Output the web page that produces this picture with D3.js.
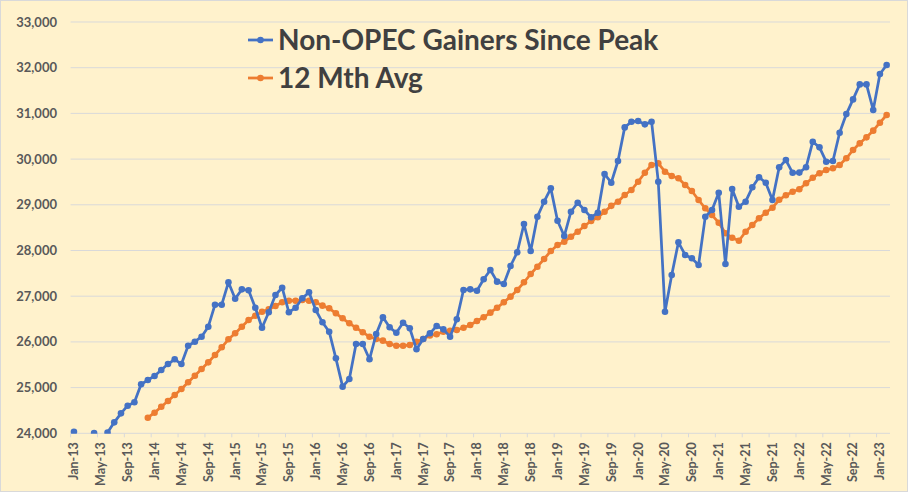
<!DOCTYPE html>
<html><head><meta charset="utf-8">
<script src="https://cdn.jsdelivr.net/npm/d3@7"></script>
<style>body{margin:0;background:#fff} text{font-family:Lato,"Noto Sans",sans-serif}</style>
</head><body><svg id="c" width="910" height="494"></svg>
<script>
// Categories: monthly Jan-13 .. Feb-23
const firstMonth = [2013, 0];
const lastMonthExclusive = [2023, 2];
const tickLabels = ["Jan-13","May-13","Sep-13","Jan-14","May-14","Sep-14","Jan-15","May-15","Sep-15",
  "Jan-16","May-16","Sep-16","Jan-17","May-17","Sep-17","Jan-18","May-18","Sep-18","Jan-19","May-19",
  "Sep-19","Jan-20","May-20","Sep-20","Jan-21","May-21","Sep-21","Jan-22","May-22","Sep-22","Jan-23"];
const yTicks = [24000,25000,26000,27000,28000,29000,30000,31000,32000,33000];
const seriesNames = ["Non-OPEC Gainers Since Peak", "12 Mth Avg"];

const gainers = [
  24035, null, null, 24005, null, 24015, 24240, 24437, 24604, 24678, 25072, 25166,
  25254, 25385, 25516, 25619, 25516, 25917, 26004, 26114, 26333, 26814, 26814, 27304,
  26945, 27150, 27130, 26748, 26311, 26648, 27026, 27186, 26648, 26748, 26954, 27085,
  26698, 26429, 26223, 25641, 25020, 25188, 25954, 25954, 25619, 26173, 26538, 26319,
  26201, 26420, 26298, 25838, 26063, 26188, 26348, 26275, 26114, 26494, 27136, 27150,
  27120, 27370, 27573, 27318, 27267, 27661, 27961, 28580, 27989, 28740, 29068, 29360,
  28652, 28317, 28849, 29046, 28886, 28726, 28827, 29674, 29484, 29958, 30694, 30818,
  30833, 30760, 30818, 29505, 26661, 27464, 28180, 27902, 27829, 27683, 28740, 28886,
  29265, 27705, 29346, 28958, 29068, 29383, 29602, 29484, 29105, 29820, 29980, 29700,
  29705, 29821, 30381, 30257, 29943, 29958, 30577, 30985, 31306, 31635, 31635, 31075,
  31862, 32059
];
const avg12 = [
  null, null, null, null, null, null, null, null, null, null, null, 24341,
  24451, 24582, 24707, 24838, 24969, 25116, 25260, 25407, 25553, 25713, 25882, 26057,
  26188, 26333, 26479, 26573, 26661, 26713, 26786, 26866, 26902, 26902, 26917, 26902,
  26866, 26793, 26735, 26626, 26516, 26407, 26311, 26210, 26114, 26063, 26027, 25954,
  25917, 25917, 25932, 26004, 26063, 26140, 26166, 26223, 26245, 26260, 26311, 26370,
  26457, 26538, 26640, 26748, 26866, 26990, 27136, 27304, 27486, 27646, 27814, 27989,
  28120, 28193, 28302, 28411, 28536, 28646, 28726, 28849, 28977, 29068, 29214, 29324,
  29505, 29702, 29871, 29908, 29724, 29630, 29580, 29433, 29302, 29105, 28923, 28776,
  28608, 28376, 28280, 28214, 28411, 28558, 28705, 28827, 28936, 29110, 29210, 29287,
  29339, 29470, 29593, 29690, 29761, 29799, 29871, 30017, 30199, 30345, 30476, 30622,
  30797, 30965
];

const fmtM = d3.utcFormat("%b-%y");
const categories = d3.utcMonths(new Date(Date.UTC(...firstMonth, 1)), new Date(Date.UTC(...lastMonthExclusive, 1))).map(fmtM);

const svg = d3.select("#c");
const L = 70.6, R = 890, T = 22, B = 433.3;

svg.append("rect").attr("x",0.5).attr("y",0.5).attr("width",907).attr("height",491)
  .attr("fill","#FFF2CC").attr("stroke","#D9D9D9");

const x = d3.scalePoint().domain(categories).range([L, R]).padding(0.5);
const y = d3.scaleLinear().domain([24000, 33000]).range([B, T]);
const step = x.step();

// gridlines
svg.append("g").selectAll("line").data(yTicks.filter(v => v > 24000)).join("line")
  .attr("x1", L).attr("x2", R).attr("y1", d => y(d)).attr("y2", d => y(d))
  .attr("stroke", "#D9D9D9").attr("stroke-width", 1);

// y labels
svg.append("g").selectAll("text").data(yTicks).join("text")
  .attr("x", 57).attr("y", d => y(d)).attr("dy", "0.35em")
  .attr("text-anchor", "end").attr("font-size", 13).attr("font-weight", "bold")
  .attr("fill", "#595959").text(d => d3.format(",")(d));

// x axis line + ticks
svg.append("line").attr("x1", L).attr("x2", R).attr("y1", B).attr("y2", B)
  .attr("stroke", "#D9D9D9").attr("stroke-width", 1);
svg.append("g").selectAll("line").data(tickLabels).join("line")
  .attr("x1", d => x(d) - step/2).attr("x2", d => x(d) - step/2)
  .attr("y1", B).attr("y2", B + 4).attr("stroke", "#D9D9D9");

svg.append("g").selectAll("text").data(tickLabels).join("text")
  .attr("transform", d => `translate(${x(d)},${B + 9}) rotate(-90)`)
  .attr("dy", "0.35em").attr("text-anchor", "end")
  .attr("font-size", 12.5).attr("font-weight", "bold").attr("fill", "#595959").text(d => d);

// clip
svg.append("clipPath").attr("id","pc").append("rect")
  .attr("x", L - 6).attr("y", T - 6).attr("width", R - L + 12).attr("height", B - T + 6.5);

const line = d3.line().defined(d => d[1] != null).x(d => x(d[0])).y(d => y(d[1]));

function drawSeries(vals, color) {
  const pts = categories.map((c, i) => [c, vals[i]]);
  const g = svg.append("g").attr("clip-path", "url(#pc)");
  g.append("path").datum(pts).attr("d", line).attr("fill", "none")
    .attr("stroke", color).attr("stroke-width", 2.75).attr("stroke-linejoin", "round");
  g.selectAll("circle").data(pts.filter(p => p[1] != null)).join("circle")
    .attr("cx", p => x(p[0])).attr("cy", p => y(p[1])).attr("r", 3.3).attr("fill", color);
}
drawSeries(avg12, "#ED7D31");
drawSeries(gainers, "#4472C4");

// legend
const colors = ["#4472C4", "#ED7D31"];
const lg = svg.append("g");
seriesNames.forEach((n, i) => {
  const cy = 40 + i * 38;
  lg.append("line").attr("x1", 248).attr("x2", 273).attr("y1", cy).attr("y2", cy)
    .attr("stroke", colors[i]).attr("stroke-width", 2.75);
  lg.append("circle").attr("cx", 260.5).attr("cy", cy).attr("r", 3.3).attr("fill", colors[i]);
  lg.append("text").attr("x", 278).attr("y", cy).attr("dy", "0.36em")
    .attr("font-size", 28).attr("font-weight", "bold").attr("fill", "#404040").text(n);
});
</script></body></html>
